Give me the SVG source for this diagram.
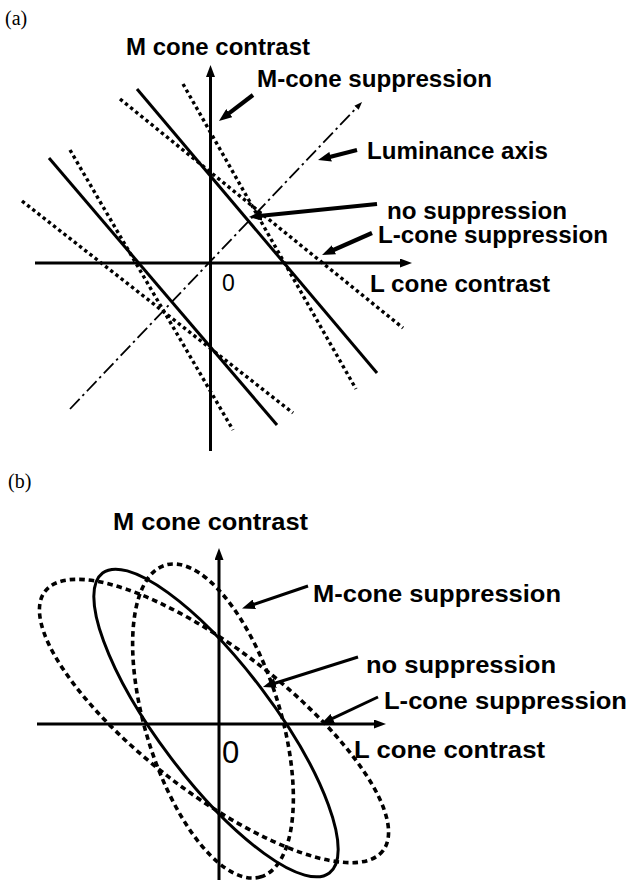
<svg xmlns="http://www.w3.org/2000/svg" width="631" height="882" viewBox="0 0 631 882">
<style>
.lbl{font-family:"Liberation Sans",Arial,Helvetica,sans-serif;font-weight:bold;fill:#000}
.zero{font-family:"Liberation Sans",Arial,Helvetica,sans-serif;fill:#000}
.panel{font-family:"Liberation Serif","Times New Roman",serif;fill:#000}
.axis{stroke:#000;stroke-width:3;fill:none}
.solid{stroke:#000;stroke-width:3;fill:none}
.dotA{stroke:#000;stroke-width:3.4;fill:none;stroke-dasharray:3.4 3.2}
.dotB{stroke:#000;stroke-width:3.6;fill:none;stroke-dasharray:5.5 4}
.lum{stroke:#000;stroke-width:1.8;fill:none;stroke-dasharray:14 4 2.5 4}
.ann{stroke:#000;stroke-width:4.2;fill:none}
.annB{stroke:#000;stroke-width:3;fill:none}
</style>
<defs>
<marker id="axisHead" viewBox="0 0 12 9" refX="3" refY="4.5" markerWidth="12" markerHeight="9" markerUnits="userSpaceOnUse" orient="auto"><path d="M0,0 L12,4.5 L0,9 Z" fill="#000"/></marker>
<marker id="annHead" viewBox="0 0 13 10" refX="3" refY="5" markerWidth="13" markerHeight="10" markerUnits="userSpaceOnUse" orient="auto"><path d="M0,0 L13,5 L0,10 Z" fill="#000"/></marker>
<marker id="lumHead" viewBox="0 0 8 6" refX="2" refY="3" markerWidth="8" markerHeight="6" markerUnits="userSpaceOnUse" orient="auto"><path d="M0,0 L8,3 L0,6 Z" fill="#000"/></marker>
</defs>

<!-- Panel (a) -->
<g id="panel-a-label"><text class="panel" x="5" y="25" font-size="20">(a)</text></g>
<g id="a-axes">
<line class="axis" x1="210.5" y1="451" x2="210.5" y2="74" marker-end="url(#axisHead)"/>
<line class="axis" x1="35" y1="263" x2="403" y2="263" marker-end="url(#axisHead)"/>
</g>
<g id="a-curves">
<line class="solid" x1="137" y1="89" x2="377" y2="373"/>
<line class="solid" x1="49" y1="158" x2="277" y2="425"/>
<line class="dotA" x1="183" y1="84" x2="356" y2="389"/>
<line class="dotA" x1="120" y1="99" x2="403" y2="328"/>
<line class="dotA" x1="70" y1="150" x2="233" y2="430"/>
<line class="dotA" x1="22" y1="201" x2="293" y2="413"/>
<line class="lum" x1="70" y1="409" x2="357.9" y2="106.3" marker-end="url(#lumHead)"/>
</g>
<g id="a-connectors">
<line class="ann" x1="253" y1="95" x2="226.9" y2="114.9" marker-end="url(#annHead)"/>
<line class="ann" x1="357" y1="150" x2="327.7" y2="157.5" marker-end="url(#annHead)"/>
<line class="ann" x1="377" y1="204" x2="258.9" y2="216" marker-end="url(#annHead)"/>
<line class="ann" x1="372" y1="233" x2="331.2" y2="251" marker-end="url(#annHead)"/>
</g>
<g id="a-labels">
<text class="lbl" x="126" y="55" font-size="23" textLength="184" lengthAdjust="spacingAndGlyphs">M cone contrast</text>
<text class="lbl" x="257" y="87" font-size="23" textLength="235" lengthAdjust="spacingAndGlyphs">M-cone suppression</text>
<text class="lbl" x="367" y="159" font-size="23" textLength="181" lengthAdjust="spacingAndGlyphs">Luminance axis</text>
<text class="lbl" x="387" y="219" font-size="23" textLength="180" lengthAdjust="spacingAndGlyphs">no suppression</text>
<text class="lbl" x="378" y="243" font-size="23" textLength="230" lengthAdjust="spacingAndGlyphs">L-cone suppression</text>
<text class="lbl" x="370" y="292" font-size="23" textLength="180" lengthAdjust="spacingAndGlyphs">L cone contrast</text>
<text class="zero" x="222" y="291" font-size="23">0</text>
</g>

<!-- Panel (b) -->
<g id="panel-b-label"><text class="panel" x="8" y="488" font-size="20">(b)</text></g>
<g id="b-axes">
<line class="axis" x1="219" y1="880" x2="219" y2="557" marker-end="url(#axisHead)"/>
<line class="axis" x1="37" y1="724" x2="377" y2="724" marker-end="url(#axisHead)"/>
</g>
<g id="b-curves">
<ellipse class="solid" cx="216" cy="723" rx="188" ry="57" transform="rotate(52.9 216 723)" stroke-width="3.3"/>
<ellipse class="dotB" cx="213" cy="721" rx="163" ry="67.5" transform="rotate(72.9 213 721)"/>
<ellipse class="dotB" cx="214" cy="721" rx="213" ry="72" transform="rotate(37.5 214 721)"/>
</g>
<g id="b-connectors">
<line class="annB" x1="308" y1="586" x2="251.5" y2="605.2" marker-end="url(#annHead)"/>
<line class="annB" x1="358" y1="657" x2="272.5" y2="684" marker-end="url(#annHead)"/>
<line class="annB" x1="378" y1="697" x2="330" y2="719.7" marker-end="url(#annHead)"/>
</g>
<g id="b-labels">
<text class="lbl" x="113" y="530" font-size="24.5" textLength="195" lengthAdjust="spacingAndGlyphs">M cone contrast</text>
<text class="lbl" x="313" y="602" font-size="24.5" textLength="248" lengthAdjust="spacingAndGlyphs">M-cone suppression</text>
<text class="lbl" x="366" y="673" font-size="24.5" textLength="190" lengthAdjust="spacingAndGlyphs">no suppression</text>
<text class="lbl" x="384" y="709" font-size="24.5" textLength="243" lengthAdjust="spacingAndGlyphs">L-cone suppression</text>
<text class="lbl" x="354" y="758" font-size="24.5" textLength="191" lengthAdjust="spacingAndGlyphs">L cone contrast</text>
<text class="zero" x="222" y="763" font-size="31">0</text>
</g>
</svg>
